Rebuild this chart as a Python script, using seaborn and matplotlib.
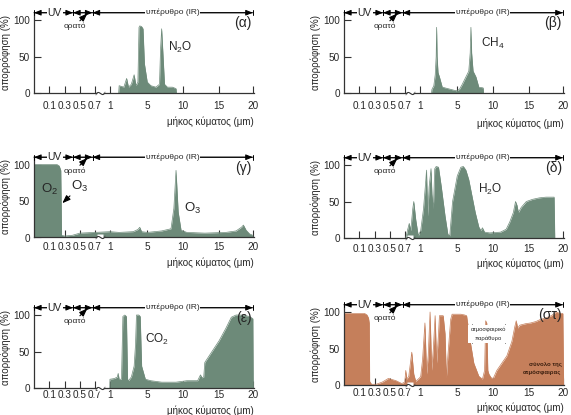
import numpy as np
import matplotlib
matplotlib.use('Agg')
import matplotlib.pyplot as plt
import seaborn as sns

sns.set_theme(style='white')
plt.rcParams['font.family'] = ['Liberation Sans', 'DejaVu Sans']
plt.rcParams['mathtext.default'] = 'regular'

# broken wavelength axis: wavelength (um) -> drawing position
WL_KNOTS = [0, 0.1, 0.3, 0.5, 0.7, 1, 5, 10, 15, 20, 25]
POS_KNOTS = [0, 1, 2, 3, 3.97, 4.95, 7.4, 9.75, 12.1, 14.3, 16.8]
TICK_WL = [0.1, 0.3, 0.5, 0.7, 1, 5, 10, 15, 20]
TICK_LABELS = ['0.1', '0.3', '0.5', '0.7', '1', '5', '10', '15', '20']

# absorption spectra (% absorbed)
N2O_WL = [1.95, 2.0, 2.5, 2.8, 3.0, 3.3, 3.6, 3.8, 4.0, 4.12, 4.2, 4.4, 4.55, 4.7, 5.0,
          5.5, 6.2, 6.7, 6.85, 7.0, 7.15, 7.4, 7.8, 8.5, 9.0, 9.05]
N2O_ABS = [0, 10, 8, 20, 8, 12, 25, 10, 15, 90, 92, 91, 88, 40, 15,
           10, 8, 12, 60, 88, 60, 12, 8, 8, 6, 0]

CH4_WL = [2.25, 2.3, 2.5, 2.65, 2.75, 2.8, 2.85, 2.95, 3.1, 3.4, 4.0, 4.9, 5.3, 5.7,
          6.2, 6.6, 6.8, 6.9, 7.0, 7.2, 7.6, 8.0, 8.6, 8.65]
CH4_ABS = [0, 5, 10, 25, 50, 90, 50, 28, 22, 8, 6, 3, 5, 12,
           22, 30, 55, 90, 55, 30, 22, 8, 7, 0]

O3_WL = [0.0, 0.2, 0.23, 0.25, 0.255, 0.26, 0.3, 0.4, 0.5, 0.7, 1.0, 2.0, 3.5, 4.0,
         4.2, 4.4, 5.0, 7.0, 8.3, 8.7, 9.0, 9.3, 9.7, 10.5, 13.0, 16.0, 17.5, 18.3,
         18.6, 19.0, 19.5, 20.0]
O3_ABS = [100, 100, 98, 92, 50, 3, 2, 3, 6, 7, 8, 7, 8, 11,
          14, 8, 7, 9, 12, 40, 92, 35, 10, 7, 6, 7, 9, 14,
          17, 10, 5, 3]

H2O_WL = [0.72, 0.76, 0.79, 0.82, 0.86, 0.88, 0.92, 0.97, 1.1, 1.4, 1.65, 1.72, 1.85,
          2.0, 2.2, 2.3, 2.45, 2.6, 2.75, 3.0, 3.3, 3.7, 4.0, 4.2, 4.5, 5.0, 5.5, 5.85,
          6.2, 6.6, 7.0, 7.5, 8.0, 8.3, 8.5, 8.8, 9.5, 11.0, 11.8, 12.3, 12.8, 13.1,
          13.3, 13.5, 13.9, 14.6, 15.5, 16.5, 17.5, 18.7, 18.8]
H2O_ABS = [0, 12, 20, 10, 40, 50, 25, 3, 10, 40, 80, 93, 30,
           70, 95, 60, 40, 95, 98, 97, 70, 30, 5, 3, 50, 85, 97, 98,
           93, 80, 60, 35, 15, 10, 14, 8, 7, 8, 12, 22, 35, 50,
           45, 35, 42, 50, 53, 55, 56, 56, 0]

CO2_WL = [1.0, 1.02, 1.5, 1.8, 1.9, 2.0, 2.25, 2.4, 2.6, 2.78, 2.9, 3.0, 3.3, 3.6,
          3.75, 3.85, 4.1, 4.25, 4.4, 4.8, 5.5, 7.0, 9.0, 10.5, 12.0, 12.4, 12.6,
          12.85, 13.0, 14.0, 15.0, 16.0, 16.8, 17.5, 18.5, 19.5, 20.0, 20.05]
CO2_ABS = [0, 12, 13, 15, 20, 12, 12, 98, 100, 98, 12, 10, 15, 30,
           60, 100, 100, 98, 30, 12, 10, 8, 8, 10, 10, 18, 14,
           15, 35, 50, 65, 82, 97, 100, 100, 98, 95, 0]

ALL_WL = [0.0, 0.1, 0.17, 0.2, 0.22, 0.23, 0.235, 0.26, 0.32, 0.4, 0.48, 0.58, 0.66,
          0.7, 0.72, 0.74, 0.78, 0.84, 0.88, 0.92, 1.0, 1.1, 1.3, 1.55, 1.73, 1.9,
          2.1, 2.27, 2.45, 2.64, 2.8, 3.0, 3.1, 3.5, 3.7, 3.84, 4.0, 4.3, 4.45, 4.8,
          5.5, 6.0, 6.3, 6.8, 7.3, 8.0, 8.5, 8.8, 8.95, 9.1, 9.25, 9.4, 9.7, 10.0,
          10.5, 11.2, 11.9, 12.6, 13.0, 13.2, 13.4, 13.7, 14.5, 15.2, 16.0, 16.7,
          17.5, 18.3, 19.0, 19.6, 20.0, 20.1]
ALL_ABS = [98, 98, 98, 96, 92, 85, 5, 1, 1, 4, 9, 6, 2,
           4, 20, 8, 12, 45, 15, 5, 10, 12, 35, 85, 15, 40,
           100, 20, 50, 95, 30, 70, 95, 95, 70, 10, 40, 90, 97, 97,
           97, 96, 95, 60, 30, 12, 8, 20, 88, 85, 20, 15, 10, 9,
           20, 30, 40, 60, 80, 88, 78, 82, 84, 85, 87, 90,
           92, 95, 100, 98, 98, 0]

GREEN = '#6d8a79'
ORANGE = '#c57f5b'
BAND_Y = 110


def fwd(x):
    return np.interp(x, WL_KNOTS, POS_KNOTS)


def inv(p):
    return np.interp(p, POS_KNOTS, WL_KNOTS)


def arrow(ax, x0, x1, y):
    ax.annotate('', xy=(x1, y), xytext=(x0, y),
                arrowprops=dict(arrowstyle='<|-|>,head_length=0.35,head_width=0.14',
                                color='black', lw=0.7, shrinkA=0, shrinkB=0))
    ax.annotate('', xy=(x1, y), xytext=(x0, y),
                arrowprops=dict(arrowstyle='|-|,widthA=0.15,widthB=0.15',
                                color='black', lw=0.7, shrinkA=0, shrinkB=0))


def draw_band(ax):
    arrow(ax, 0.0, 0.41, BAND_Y)
    arrow(ax, 0.41, 0.67, BAND_Y)
    arrow(ax, 0.67, 20.0, BAND_Y)
    box = dict(facecolor='white', edgecolor='none', pad=0.6)
    ax.text(0.17, BAND_Y, 'UV', fontsize=7.5, ha='center', va='center', bbox=box)
    ax.text(8.5, BAND_Y, 'υπέρυθρο (IR)', fontsize=6, ha='center', va='center', bbox=box)
    ax.text(0.44, 91, 'ορατό', fontsize=6, ha='center', va='center')
    ax.annotate('', xy=(0.6, BAND_Y - 1), xytext=(0.5, 99),
                arrowprops=dict(arrowstyle='-|>,head_length=0.4,head_width=0.15',
                                color='black', lw=0.8, shrinkA=0, shrinkB=0))


# label, wavelengths, absorption, colour, (left, bottom) in px, tick pad, xlabel offset
panels = [
    ('(α)', N2O_WL, N2O_ABS, GREEN, [34, 93], 6, -0.29),
    ('(β)', CH4_WL, CH4_ABS, GREEN, [344, 93], 6, -0.31),
    ('(γ)', O3_WL, O3_ABS, GREEN, [34, 237.5], 3, -0.25),
    ('(δ)', H2O_WL, H2O_ABS, GREEN, [344, 238], 4, -0.25),
    ('(ε)', CO2_WL, CO2_ABS, GREEN, [34, 388], 1.5, -0.215),
    ('(στ)', ALL_WL, ALL_ABS, ORANGE, [344, 385], 2, -0.215),
]

W, H = 571, 415
fig = plt.figure(figsize=(W / 100, H / 100), dpi=100)
axes = []
for label, wl, ab, color, (left, bottom), tpad, xl_off in panels:
    ax = fig.add_axes([left / W, (H - bottom) / H, 220 / W, 81 / H])
    ax.set_xscale('function', functions=(fwd, inv))
    ax.fill_between(wl, ab, 0, color=color, lw=0)
    sns.lineplot(x=wl, y=ab, ax=ax, color=color, lw=0.5, estimator=None, sort=False)
    ax.set_xlim(0, 20.15)
    ax.set_ylim(0, 111)
    ax.set_xticks(TICK_WL)
    ax.set_xticklabels(TICK_LABELS)
    ax.set_yticks([0, 50, 100])
    ax.tick_params(axis='both', direction='in', length=5, width=0.8, color='#333333',
                   labelsize=7.2, pad=3, bottom=True, left=True)
    ax.tick_params(axis='x', pad=tpad)
    for side in ['top', 'right']:
        ax.spines[side].set_visible(False)
    for side in ['left', 'bottom']:
        ax.spines[side].set_color('#333333')
        ax.spines[side].set_linewidth(0.9)
    ax.set_ylabel('απορρόφηση (%)', fontsize=7)
    ax.yaxis.set_label_coords(-0.105, 0.5)
    ax.set_xlabel('μήκος κύματος (μm)', fontsize=7)
    ax.xaxis.set_label_coords(1.0, xl_off)
    ax.xaxis.label.set_ha('right')
    # axis break mark between 0.7 and 1
    ax.plot([0.8], [0], marker='s', ms=5, color='white', mec='none', clip_on=False, zorder=5)
    ax.plot([0.8], [0], marker='$\\sim$', ms=7, color='#333333', mec='none',
            clip_on=False, zorder=6)
    draw_band(ax)
    ax.text(0.99, 0.86, label, transform=ax.transAxes, fontsize=10, ha='right', va='center')
    axes.append(ax)

ax_a, ax_b, ax_g, ax_d, ax_e, ax_st = axes
ax_a.text(9.5, 62, 'N$_2$O', fontsize=8.5, ha='center', va='center')
ax_b.text(9.9, 68, 'CH$_4$', fontsize=8.5, ha='center', va='center')
ax_g.text(0.1, 66, 'O$_2$', fontsize=9.5, ha='center', va='center')
ax_g.text(0.5, 70, 'O$_3$', fontsize=9.5, ha='center', va='center')
ax_g.annotate('', xy=(0.27, 47), xytext=(0.37, 57),
              arrowprops=dict(arrowstyle='-|>,head_length=0.4,head_width=0.15',
                              color='black', lw=0.8, shrinkA=0, shrinkB=0))
ax_g.text(11.3, 40, 'O$_3$', fontsize=9.5, ha='center', va='center')
ax_d.text(9.6, 66, 'H$_2$O', fontsize=8.5, ha='center', va='center')
ax_e.text(6.3, 66, 'CO$_2$', fontsize=8.5, ha='center', va='center')

ax_st.text(9.3, 70, 'ατμοσφαιρικό\nπαράθυρο', fontsize=4.2, ha='center', va='center',
           linespacing=1.7, bbox=dict(facecolor='white', edgecolor='none', pad=1.5))
ax_st.vlines([7.0, 11.6], 57, 83, color='black', lw=0.6)
ax_st.text(19.8, 23, 'σύνολο της\nατμόσφαιρας', fontsize=4.3, ha='right', va='center',
           color='#3a1e0e', fontweight='bold', linespacing=1.6)

fig.savefig('out.png', dpi=100, facecolor='white')
